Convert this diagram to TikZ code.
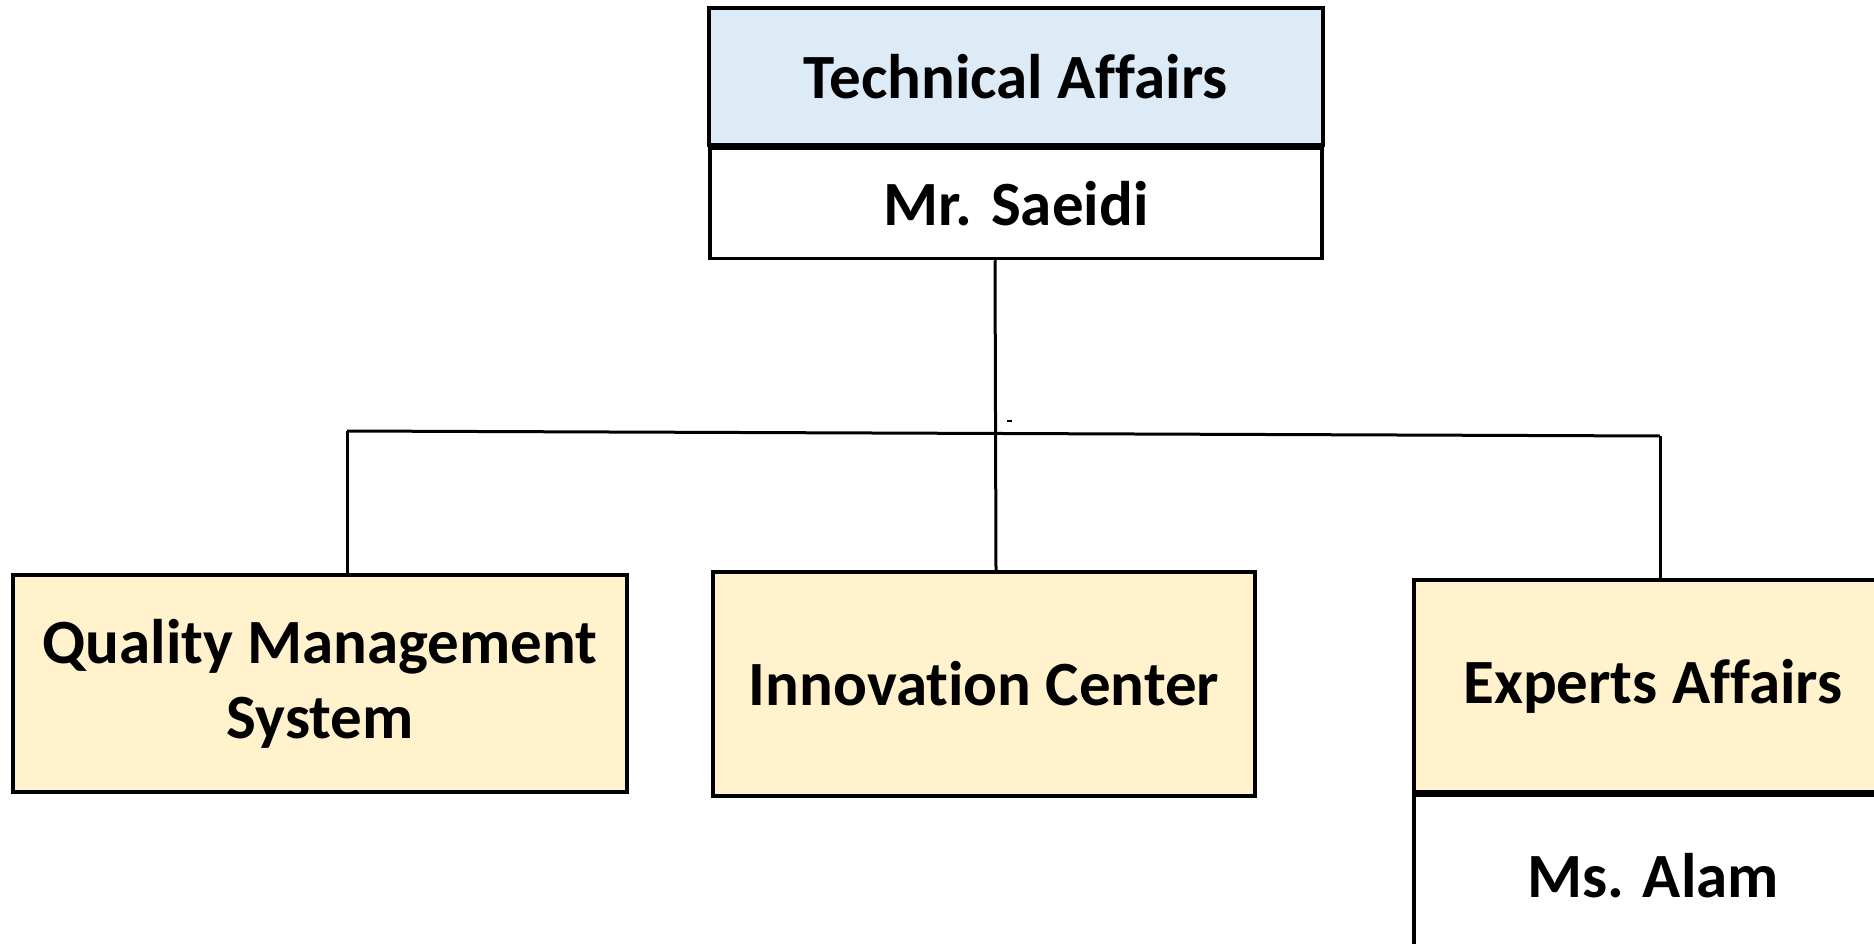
\documentclass[tikz,border=0pt]{standalone}
\usepackage{fontspec}
\setmainfont{Carlito}[Ligatures=NoCommon]
\usepackage{tikz}
\usetikzlibrary{positioning}

\definecolor{headblue}{RGB}{221,235,247}
\definecolor{unityellow}{RGB}{255,242,204}

\begin{document}
\begin{tikzpicture}[x=1pt,y=-1pt,
        box/.style = {draw, line width=3.5pt, rectangle, align=center, inner sep=0pt,
                      font=\fontsize{63}{75}\selectfont\bfseries},
        head/.style = {box, fill=headblue},
        unit/.style = {box, fill=unityellow},
        person/.style = {box, fill=white},
        link/.style = {line width=3pt},
        node distance={0pt}]
        \useasboundingbox (0,0) rectangle (1874,944);
        \node[head, minimum width=614, minimum height=137] (tech) at (1016,76.5) {Technical Affairs};
        \node[person, minimum width=612, minimum height=110] (saeidi) [below=of tech] {Mr. Saeidi};
        \node[unit, minimum width=614, minimum height=217] (qms) at (320,683.5) {Quality Management\\System};
        \node[unit, minimum width=542, minimum height=224] (innov) at (984,684) {Innovation Center};
        \node[unit, minimum width=478, minimum height=212] (experts) at (1653,686) {Experts Affairs};
        \node[person, minimum width=478, minimum height=160] (alam) [below=of experts] {Ms. Alam};
        \coordinate (hl) at (347,431);
        \coordinate (hr) at (1660,436);
        \draw[link] ([xshift=-21]saeidi.south) -- ([xshift=12]innov.north);
        \draw[link] (hl) -- (hr);
        \draw[link] (hl) -- (qms.north -| hl);
        \draw[link] (hr) -- (experts.north -| hr);
        \draw[line width=1.5pt] (1007,421) -- (1012,421);
\end{tikzpicture}
\end{document}
